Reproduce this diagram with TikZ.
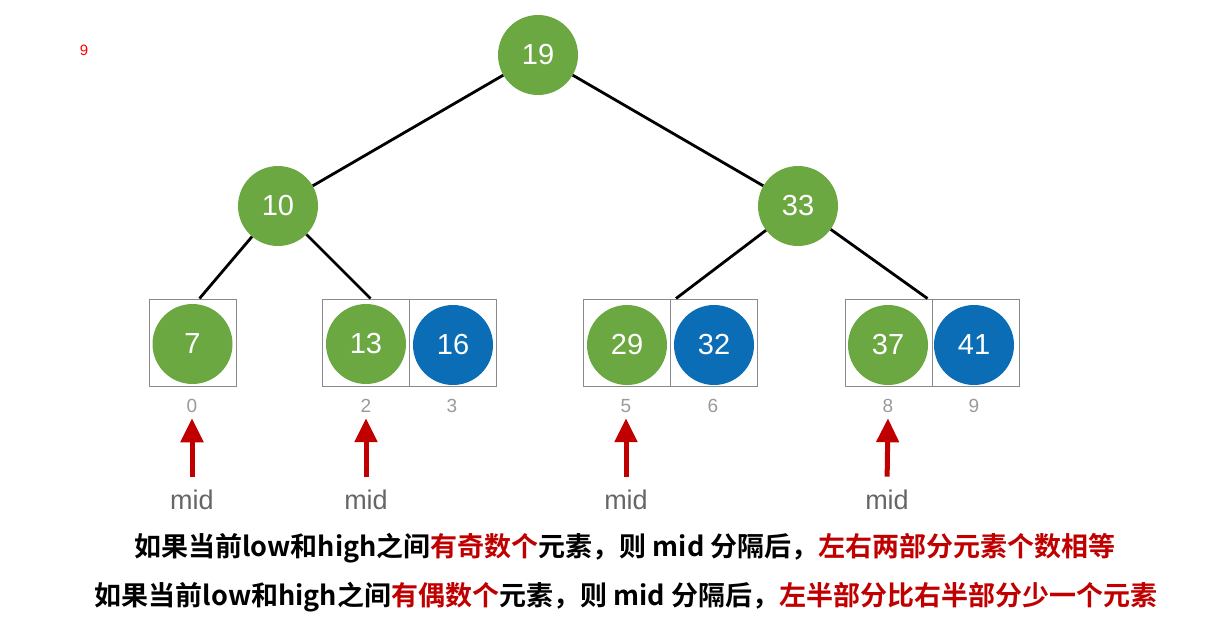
\documentclass[tikz,border=0pt]{standalone}
\usepackage{fontspec}
\setmainfont{Liberation Sans}
\newfontfamily\cjk{Noto Sans CJK SC}[BoldFont={Noto Sans CJK SC Bold}]
\usetikzlibrary{arrows.meta,calc}
\definecolor{tgreen}{HTML}{6BA841}
\definecolor{tblue}{HTML}{0A6DB5}
\definecolor{tred}{HTML}{C00000}
\definecolor{tgray}{HTML}{9A9A9A}
\definecolor{bgray}{HTML}{8A8A8A}
\tikzset{
  gnode/.style={circle,fill=tgreen,minimum size=80pt,inner sep=0pt,text=white,font=\fontsize{29}{29}\selectfont},
  bnode/.style={circle,fill=tblue,minimum size=80pt,inner sep=0pt,text=white,font=\fontsize{29}{29}\selectfont},
  cell/.style={rectangle,draw=bgray,line width=1pt,minimum size=87pt,inner sep=0pt},
  idx/.style={text=tgray,font=\fontsize{19}{19}\selectfont},
  midlbl/.style={text=black!60,font=\fontsize{27}{27}\selectfont},
  edge/.style={line width=2.8pt,black},
  midarrow/.style={line width=5pt,tred,-{Triangle[length=24pt,width=22pt]},shorten <=10pt,shorten >=2pt},
  msg/.style={font=\cjk\bfseries\fontsize{27}{27}\selectfont,text=black}
}
\begin{document}
\begin{tikzpicture}[x=1pt,y=-1pt]
\useasboundingbox (0,0) rectangle (1229,632);
\node[text=red,font=\fontsize{15}{15}\selectfont] (nine) at (84,50) {9};
% cells
\node[cell] (b0) at (192.5,342.5) {};
\node[cell] (b2) at (365.5,342.5) {};
\node[cell] (b3) at (452.5,342.5) {};
\node[cell] (b5) at (627,342.5) {};
\node[cell] (b6) at (714,342.5) {};
\node[cell] (b8) at (888.5,342.5) {};
\node[cell] (b9) at (975.5,342.5) {};
% circles
\node[gnode] (n19) at (538,55) {19};
\node[gnode] (n10) at (278,206) {10};
\node[gnode] (n33) at (798,206) {33};
\node[gnode] (n7) at (192.5,344) {7};
\node[gnode] (n13) at (366,344) {13};
\node[bnode] (n16) at (453,345) {16};
\node[gnode] (n29) at (627,345) {29};
\node[bnode] (n32) at (714,345) {32};
\node[gnode] (n37) at (888,345) {37};
\node[bnode] (n41) at (974,345) {41};
% edge end points
\coordinate (e0) at ($(b0.north)+(7,0)$);
\coordinate (e2) at ($(b2.north)+(5,0)$);
\coordinate (e5) at ($(b5.north east)+(5,0)$);
\coordinate (e8) at ($(b9.north west)+(-4,0)$);
\draw[edge] (n19) -- (n10);
\draw[edge] (n19) -- (n33);
\draw[edge] (n10) -- (e0);
\draw[edge] (n10) -- (e2);
\draw[edge] (n33) -- (e5);
\draw[edge] (n33) -- (e8);
% indices
\node[idx] (i0) at (192,406) {0};
\node[idx] (i2) at (366,406) {2};
\node[idx] (i3) at (452,406) {3};
\node[idx] (i5) at (626,406) {5};
\node[idx] (i6) at (713,406) {6};
\node[idx] (i8) at (888,406) {8};
\node[idx] (i9) at (974,406) {9};
% mid labels
\node[midlbl] (m0) at (192,500) {mid};
\node[midlbl] (m2) at (366,500) {mid};
\node[midlbl] (m5) at (626,500) {mid};
\node[midlbl] (m8) at (887,500) {mid};
\draw[midarrow] (m0.north) -- (i0.south);
\draw[midarrow] (m2.north) -- (i2.south);
\draw[midarrow] (m5.north) -- (i5.south);
\draw[midarrow] (m8.north) -- (i8.south);
% messages
\node[msg] (t1) at (625,548) {如果当前low和high之间\textcolor{tred}{有奇数个}元素，则 mid 分隔后，\textcolor{tred}{左右两部分元素个数相等}};
\node[msg] (t2) at (626,597) {如果当前low和high之间\textcolor{tred}{有偶数个}元素，则 mid 分隔后，\textcolor{tred}{左半部分比右半部分少一个元素}};
\end{tikzpicture}
\end{document}
